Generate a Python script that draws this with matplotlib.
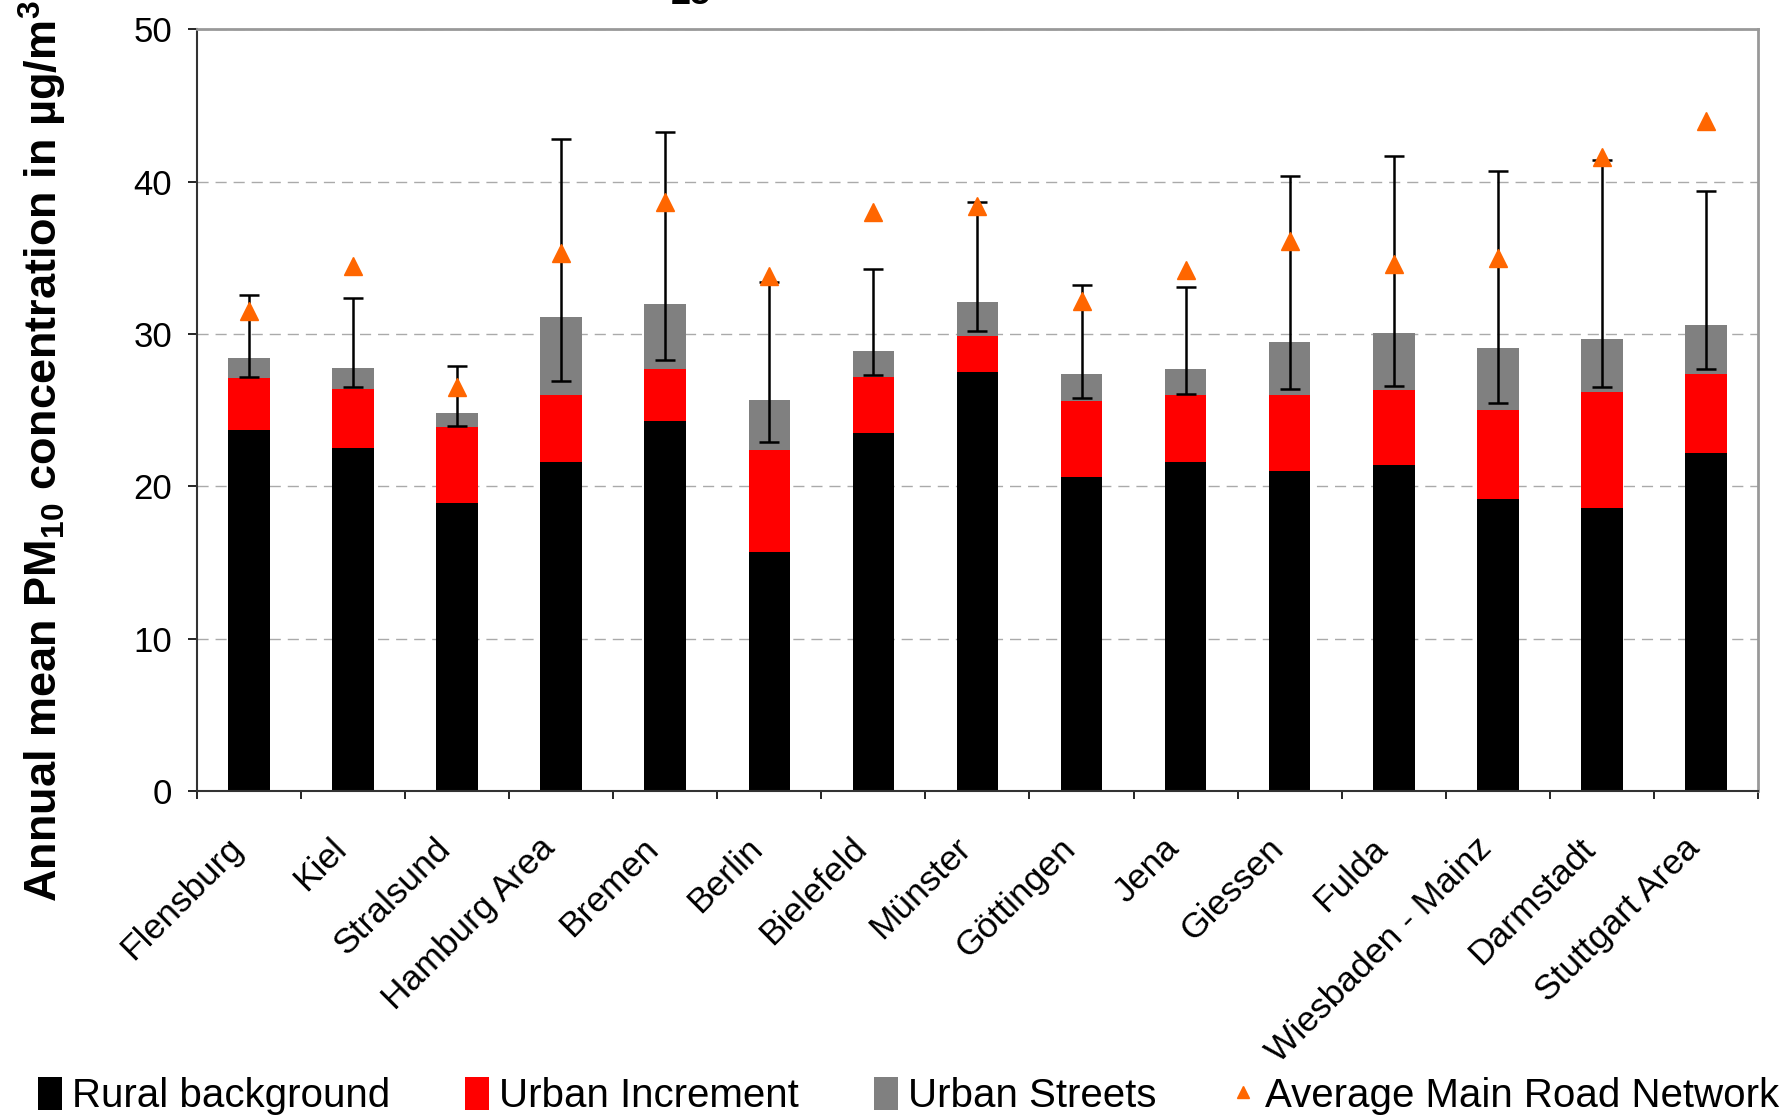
import matplotlib
matplotlib.use("Agg")
import matplotlib.pyplot as plt
import numpy as np
from matplotlib.lines import Line2D
from matplotlib.patches import Patch

plt.rcParams['font.family'] = ['Liberation Sans', 'DejaVu Sans']
plt.rcParams['mathtext.fontset'] = 'custom'
plt.rcParams['mathtext.rm'] = 'Liberation Sans:bold'
plt.rcParams['mathtext.bf'] = 'Liberation Sans:bold'

cities = ['Flensburg', 'Kiel', 'Stralsund', 'Hamburg Area', 'Bremen', 'Berlin',
          'Bielefeld', 'Münster', 'Göttingen', 'Jena', 'Giessen', 'Fulda',
          'Wiesbaden - Mainz', 'Darmstadt', 'Stuttgart Area']
rural = [23.7, 22.5, 18.9, 21.6, 24.3, 15.7, 23.5, 27.5, 20.6, 21.6, 21.0, 21.4, 19.2, 18.6, 22.2]
increment = [3.4, 3.9, 5.0, 4.4, 3.4, 6.7, 3.7, 2.4, 5.0, 4.4, 5.0, 4.9, 5.8, 7.6, 5.2]
streets = [1.3, 1.4, 0.9, 5.1, 4.3, 3.3, 1.7, 2.2, 1.8, 1.7, 3.5, 3.8, 4.1, 3.5, 3.2]
err_low = [27.2, 26.5, 24.0, 26.9, 28.3, 22.9, 27.3, 30.2, 25.8, 26.1, 26.4, 26.6, 25.5, 26.5, 27.7]
err_high = [32.6, 32.4, 27.9, 42.8, 43.3, 33.4, 34.3, 38.7, 33.2, 33.1, 40.4, 41.7, 40.7, 41.4, 39.4]
main_road = [31.5, 34.5, 26.5, 35.3, 38.7, 33.8, 38.0, 38.4, 32.2, 34.2, 36.1, 34.6, 35.0, 41.6, 44.0]

x = np.arange(len(cities))
rural = np.array(rural)
increment = np.array(increment)
streets = np.array(streets)
err_low = np.array(err_low)
err_high = np.array(err_high)

fig = plt.figure(figsize=(17.84, 11.17), dpi=100)
ax = fig.add_axes([0.1104, 0.2918, 0.875, 0.6818])

w = 0.40
ax.bar(x, rural, w, color='black', zorder=2)
ax.bar(x, increment, w, bottom=rural, color='#FF0000', zorder=2)
ax.bar(x, streets, w, bottom=rural + increment, color='#808080', zorder=2)

mid = (err_low + err_high) / 2
half = (err_high - err_low) / 2
ax.errorbar(x, mid, yerr=half, fmt='none', ecolor='black', elinewidth=1.8,
            capsize=7, capthick=1.8, zorder=3)
ax.plot(x, main_road, linestyle='none', marker='^', markersize=13,
        color='#FF6600', zorder=4)

ax.set_xlim(-0.5, len(cities) - 0.5)
ax.set_ylim(0, 50)
ax.set_yticks([0, 10, 20, 30, 40, 50])
ax.yaxis.grid(True, linestyle=(0, (8, 5)), color='#AAAAAA', linewidth=1.0, zorder=0)
ax.set_axisbelow(True)

# boundaries between cities get the tick marks, names sit in the middle
ax.set_xticks(np.arange(-0.5, len(cities), 1.0))
ax.set_xticklabels([])
ax.set_xticks(x, minor=True)
ax.set_xticklabels(cities, minor=True, rotation=45, ha='right', va='bottom',
                   rotation_mode='anchor', fontsize=25.5)
ax.tick_params(axis='x', which='major', direction='out', length=6, width=1.2)
ax.tick_params(axis='x', which='minor', length=0, pad=46)
ax.tick_params(axis='y', direction='out', length=6.5, width=1.2, labelsize=25, pad=11.5)

for side in ['top', 'right']:
    ax.spines[side].set_color('#999999')
    ax.spines[side].set_linewidth(2)
for side in ['left', 'bottom']:
    ax.spines[side].set_color('#333333')
    ax.spines[side].set_linewidth(1.5)

ax.set_ylabel('Annual mean PM$_{10}$ concentration in µg/m$^{3}$',
              fontsize=32.5, fontweight='bold')
ax.yaxis.set_label_coords(-0.082, 0.446)

fig.text(0.387, 0.9965, '25', fontsize=26, fontweight='bold', ha='center', va='baseline')

handles = [Patch(facecolor='black'), Patch(facecolor='#FF0000'), Patch(facecolor='#808080'),
           Line2D([], [], linestyle='none', marker='^', markersize=9, color='#FF6600')]
labels = ['Rural background', 'Urban Increment', 'Urban Streets', 'Average Main Road Network']
fig.legend(handles, labels, loc='lower left', bbox_to_anchor=(0.001, -0.031), ncol=4,
           frameon=False, prop={'size': 29},
           handlelength=0.6, handleheight=0.9, handletextpad=0.25, columnspacing=1.85)

fig.savefig('out.png', dpi=100)
